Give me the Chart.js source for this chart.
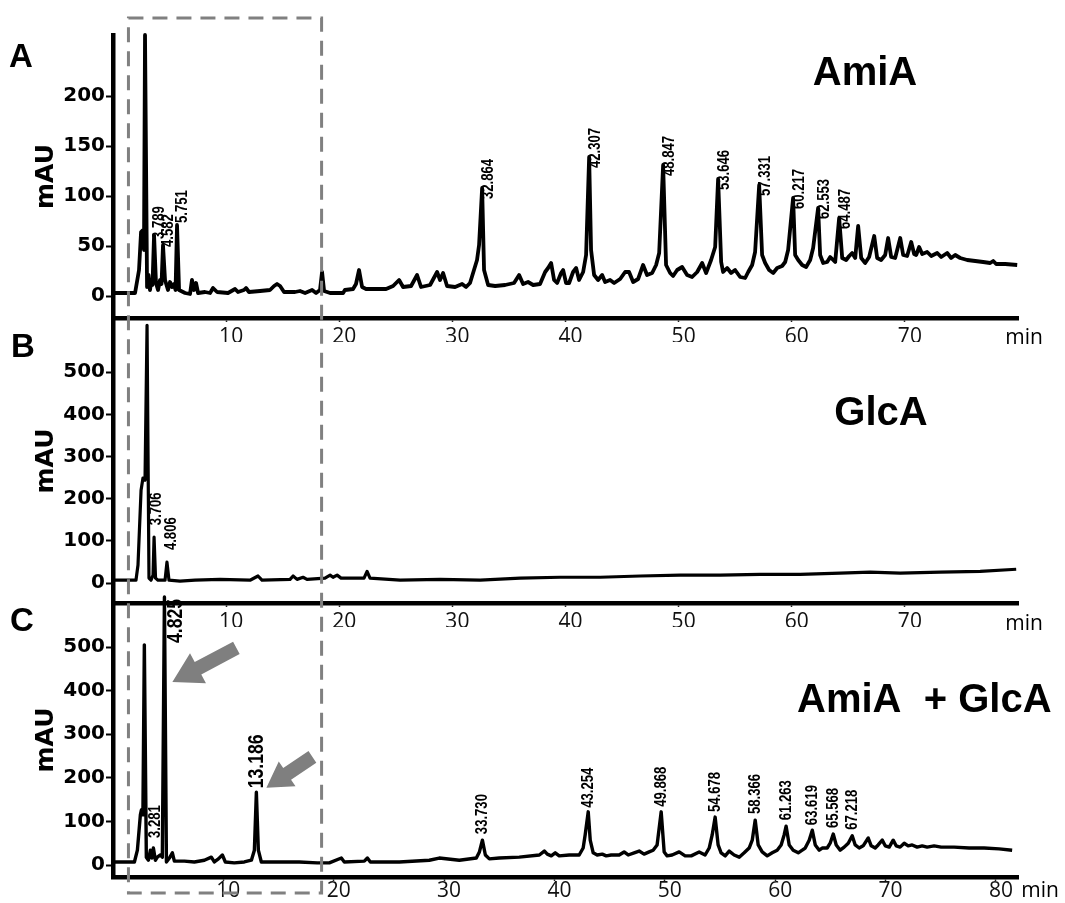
<!DOCTYPE html>
<html>
<head>
<meta charset="utf-8">
<script src="https://cdn.jsdelivr.net/npm/chart.js@4.4.1/dist/chart.umd.min.js"></script>
<style>
  body { margin: 0; background: #fff; }
  #wrap { position: relative; width: 1065px; height: 903px; }
  #wrap canvas { position: absolute; left: 0; top: 0; }
</style>
</head>
<body>
<div id="wrap">
  <canvas id="chartA" width="1065" height="903"></canvas>
  <canvas id="chartB" width="1065" height="903"></canvas>
  <canvas id="chartC" width="1065" height="903"></canvas>
</div>
<script>
// chromatogram traces: [time (min), mAU]
const traceA = [[0,3],[1.95,3],[2.3,26],[2.48,64],[2.65,66],[2.74,46],[2.83,261],[3.01,9],[3.14,21],[3.27,6],[3.36,13],[3.49,11],[3.63,61],[3.8,13],[3.98,6],[4.16,16],[4.29,12],[4.42,51],[4.6,16],[4.86,6],[5.04,14],[5.22,9],[5.39,12],[5.53,6],[5.66,71],[5.84,6],[6.37,3],[6.81,2],[6.98,16],[7.16,6],[7.34,13],[7.52,3],[8.13,4],[8.58,3],[8.84,8],[9.2,4],[10.17,3],[10.79,7],[11.05,4],[11.58,6],[11.76,8],[12.02,4],[13.0,5],[13.88,6],[14.24,10],[14.5,12],[14.77,10],[15.12,4],[16.09,4],[16.53,5],[16.98,3],[17.6,6],[17.95,3],[18.3,6],[18.48,24],[18.66,5],[19.19,3],[20.34,3],[20.5,6],[21.22,7],[21.48,12],[21.75,26],[22.02,9],[22.37,7],[24.14,7],[24.76,10],[25.29,16],[25.64,9],[26.35,10],[26.88,21],[27.23,9],[28.03,11],[28.65,24],[28.91,16],[29.18,23],[29.53,10],[30.24,9],[30.86,12],[31.21,9],[31.56,13],[32.18,36],[32.36,51],[32.63,108],[32.8,26],[33.16,11],[33.78,10],[34.66,11],[35.45,13],[35.9,21],[36.25,12],[36.69,14],[37.14,11],[37.75,12],[38.2,24],[38.46,28],[38.73,33],[38.99,16],[39.26,13],[39.61,23],[39.79,26],[40.05,13],[40.32,13],[40.67,24],[40.94,28],[41.2,16],[41.56,24],[41.82,41],[42.09,139],[42.26,46],[42.53,21],[42.88,16],[43.24,21],[43.5,14],[43.94,16],[44.3,13],[44.83,17],[45.27,24],[45.62,24],[45.98,14],[46.42,17],[46.86,31],[47.21,21],[47.66,23],[48.01,31],[48.28,43],[48.63,131],[48.89,31],[49.25,23],[49.51,20],[49.87,26],[50.31,29],[50.75,21],[51.19,19],[51.64,24],[52.08,33],[52.43,23],[52.87,36],[53.23,49],[53.49,117],[53.76,34],[53.93,24],[54.29,28],[54.64,23],[54.99,26],[55.44,19],[55.88,18],[56.15,24],[56.5,31],[56.76,44],[57.12,111],[57.38,41],[57.65,33],[58.0,26],[58.36,23],[58.71,28],[59.15,30],[59.42,34],[59.68,46],[60.12,98],[60.3,41],[60.57,36],[60.92,31],[61.27,29],[61.63,36],[61.89,48],[62.33,88],[62.51,41],[62.78,33],[63.13,34],[63.4,39],[63.84,34],[64.19,78],[64.46,38],[64.81,36],[65.08,40],[65.34,43],[65.61,38],[65.87,70],[66.14,38],[66.49,33],[66.84,39],[67.29,60],[67.55,38],[67.9,36],[68.26,41],[68.52,58],[68.79,39],[69.14,38],[69.59,58],[69.85,41],[70.2,40],[70.56,54],[70.82,42],[71.0,41],[71.26,49],[71.53,42],[71.97,44],[72.33,40],[72.86,43],[73.21,39],[73.74,43],[74.09,38],[74.45,41],[74.89,38],[75.51,36],[76.22,35],[76.92,34],[77.54,33],[77.81,35],[78.07,32],[78.87,32],[79.93,31]];

const traceB = [[0,7],[2.03,7],[2.21,43],[2.48,220],[2.65,249],[2.83,244],[3.01,611],[3.18,12],[3.36,7],[3.54,19],[3.63,109],[3.76,12],[3.98,7],[4.6,7],[4.77,50],[4.95,7],[5.92,5],[7.25,7],[9.46,9],[12.11,7],[12.82,17],[13.17,7],[15.65,9],[15.92,17],[16.27,9],[16.8,14],[17.15,9],[18.74,12],[19.19,19],[19.45,14],[19.81,19],[20.16,12],[22.19,12],[22.46,28],[22.72,12],[25.38,7],[28.91,9],[32.45,7],[35.99,12],[39.52,14],[43.06,14],[46.6,17],[50.13,19],[53.67,19],[57.2,21],[60.74,21],[64.28,24],[66.93,26],[69.59,24],[73.12,26],[76.66,28],[79.84,33]];

const traceC = [[0,7],[1.94,7],[2.21,34],[2.48,115],[2.57,126],[2.71,115],[2.84,505],[3.02,18],[3.21,11],[3.39,34],[3.52,16],[3.66,39],[3.84,11],[4.02,18],[4.29,23],[4.47,18],[4.66,615],[4.84,7],[5.11,16],[5.38,28],[5.56,9],[6.47,9],[7.37,7],[8.28,11],[8.91,18],[9.18,7],[9.55,14],[9.91,23],[10.18,7],[10.99,5],[11.9,7],[12.54,11],[12.81,34],[12.99,167],[13.17,34],[13.44,7],[15.07,7],[16.88,7],[18.51,5],[19.6,5],[20.69,16],[20.96,7],[22.77,9],[23.05,16],[23.32,7],[25.94,7],[28.66,11],[29.56,16],[31.38,11],[32.92,16],[33.2,30],[33.47,57],[33.74,23],[34.1,14],[35.0,16],[36.81,18],[38.63,23],[39.08,32],[39.35,25],[39.71,21],[40.07,28],[40.43,21],[41.34,23],[42.24,23],[42.6,39],[42.78,69],[43.06,122],[43.24,57],[43.51,28],[43.87,23],[44.33,25],[44.69,21],[45.14,23],[45.86,23],[46.31,30],[46.68,23],[47.22,28],[47.67,32],[48.12,25],[48.58,30],[48.94,34],[49.3,46],[49.67,122],[49.94,30],[50.21,21],[50.66,23],[51.3,30],[51.84,21],[52.39,21],[53.11,30],[53.65,23],[54.02,39],[54.29,69],[54.56,110],[54.83,46],[55.1,28],[55.47,21],[55.83,32],[56.28,23],[56.74,18],[57.19,28],[57.64,39],[57.92,57],[58.19,103],[58.46,46],[58.82,30],[59.28,21],[59.73,28],[60.18,34],[60.54,46],[60.81,69],[60.99,89],[61.27,46],[61.63,34],[62.09,28],[62.45,34],[62.72,39],[63.08,57],[63.36,80],[63.63,46],[63.99,34],[64.26,39],[64.71,39],[64.98,50],[65.26,71],[65.53,46],[65.89,34],[66.25,41],[66.62,50],[66.98,67],[67.25,46],[67.61,39],[67.97,44],[68.43,62],[68.7,44],[69.06,39],[69.33,46],[69.7,57],[69.97,44],[70.33,41],[70.69,57],[70.96,44],[71.32,41],[71.69,50],[72.05,44],[72.41,46],[72.86,41],[73.32,44],[73.77,41],[74.4,44],[75.04,41],[76.21,41],[77.57,39],[78.93,39],[80.29,37],[81.47,34]];

// peak annotations: [time of the peak in the trace, label]
const peaksA = [[3.63,'3.789'],[4.42,'4.582'],[5.66,'5.751'],[32.63,'32.864'],[42.09,'42.307'],[48.63,'48.847'],[53.49,'53.646'],[57.12,'57.331'],[60.12,'60.217'],[62.33,'62.553'],[64.19,'64.487']];
const peaksB = [[3.63,'3.706'],[4.77,'4.806']];
const peaksC = [[3.66,'3.281'],[33.47,'33.730'],[43.06,'43.254'],[49.67,'49.868'],[54.56,'54.678'],[58.19,'58.366'],[60.99,'61.263'],[63.36,'63.619'],[65.26,'65.568'],[66.98,'67.218']];
const bigPeaksC = [[4.66,'4.825'],[12.99,'13.186']];

// arrows in C point at these [min, mAU] spots
const arrowTipsC = [[5.38,420],[13.9,177]];
// dashed box spans this time window (C scale)
const boxRange = [1.4, 18.9];

const xTicksAB = [10,20,30,40,50,60,70];
const xTicksC = [10,20,30,40,50,60,70,80];
const yTicksA = [0,50,100,150,200];
const yTicksBC = [0,100,200,300,400,500];

const pick = (v, i) => Array.isArray(v) ? v[i] : v;

// rotated retention time labels next to the peaks
function peakLabels(items, st) {
  return {
    id: 'peakLabels',
    afterDatasetsDraw(chart) {
      const ctx = chart.ctx, xs = chart.scales.x, ys = chart.scales.y;
      const pts = chart.data.datasets[0].data;
      items.forEach((it, i) => {
        let best = pts[0];
        pts.forEach(p => { if (Math.abs(p.x - it[0]) < Math.abs(best.x - it[0])) best = p; });
        const px = xs.getPixelForValue(best.x) + pick(st.dx, i);
        const py = ys.getPixelForValue(Math.min(best.y, ys.max)) + pick(st.dy, i);
        ctx.save();
        ctx.translate(px, py);
        ctx.rotate(-Math.PI / 2);
        ctx.scale(st.squeeze, 1);
        ctx.font = st.font;
        ctx.fillStyle = '#000';
        ctx.textAlign = 'left';
        ctx.textBaseline = 'middle';
        ctx.fillText(it[1], 0, 0);
        ctx.restore();
      });
    }
  };
}

// free text: panel letters, titles, "min"
function panelText(texts) {
  return {
    id: 'panelText',
    afterDraw(chart) {
      const ctx = chart.ctx;
      texts.forEach(t => {
        ctx.save();
        ctx.font = t.font;
        ctx.fillStyle = t.color || '#000';
        ctx.textAlign = t.align || 'left';
        ctx.textBaseline = t.base || 'alphabetic';
        ctx.fillText(t.text, t.x, t.y);
        ctx.restore();
      });
    }
  };
}

// grey arrows and the dashed box, drawn on top of everything
const overlayC = {
  id: 'overlayC',
  afterDraw(chart) {
    const ctx = chart.ctx, xs = chart.scales.x, ys = chart.scales.y;
    const shapes = [
      { vx: 64, vy: -34, head: 29, hw: 17, sw: 7 },
      { vx: 46, vy: -31, head: 25, hw: 15, sw: 7 }
    ];
    arrowTipsC.forEach((tip, i) => {
      const s = shapes[i];
      const tx = xs.getPixelForValue(tip[0]), ty = ys.getPixelForValue(tip[1]);
      const len = Math.hypot(s.vx, s.vy), ux = s.vx / len, uy = s.vy / len;
      const nx = -uy, ny = ux;
      const bx = tx + ux * s.head, by = ty + uy * s.head;
      const ex = tx + s.vx, ey = ty + s.vy;
      ctx.save();
      ctx.fillStyle = '#7f7f7f';
      ctx.beginPath();
      ctx.moveTo(tx, ty);
      ctx.lineTo(bx + nx * s.hw, by + ny * s.hw);
      ctx.lineTo(bx + nx * s.sw, by + ny * s.sw);
      ctx.lineTo(ex + nx * s.sw, ey + ny * s.sw);
      ctx.lineTo(ex - nx * s.sw, ey - ny * s.sw);
      ctx.lineTo(bx - nx * s.sw, by - ny * s.sw);
      ctx.lineTo(bx - nx * s.hw, by - ny * s.hw);
      ctx.closePath();
      ctx.fill();
      ctx.restore();
    });
    const left = xs.getPixelForValue(boxRange[0]);
    const right = xs.getPixelForValue(boxRange[1]);
    ctx.save();
    ctx.strokeStyle = '#808080';
    ctx.lineWidth = 3;
    ctx.setLineDash([15, 9]);
    ctx.strokeRect(left, 18, right - left, 875);
    ctx.restore();
  }
};

function makeChart(id, trace, cfg, plugins) {
  return new Chart(document.getElementById(id), {
    type: 'line',
    data: {
      datasets: [{
        data: trace.map(p => ({ x: p[0], y: p[1] })),
        borderColor: '#000',
        borderWidth: cfg.lineWidth,
        borderJoinStyle: 'round',
        pointRadius: 0,
        tension: 0,
        clip: false
      }]
    },
    options: {
      responsive: false,
      animation: false,
      events: [],
      layout: { padding: { left: 0, right: 47, top: cfg.top, bottom: cfg.bottom } },
      plugins: { legend: { display: false }, tooltip: { enabled: false } },
      scales: {
        x: {
          type: 'linear', min: 0, max: cfg.xMax,
          afterFit: s => { s.height = 24; },
          afterBuildTicks: s => { s.ticks = cfg.xTicks.map(v => ({ value: v })); },
          grid: { drawOnChartArea: false, drawTicks: true, tickLength: 4, tickColor: '#222', tickWidth: 1.5 },
          border: { display: true, color: '#000', width: 4.5 },
          ticks: { font: { family: 'Open Sans', size: 21, lineHeight: 1 }, color: '#111', padding: cfg.xPad, labelOffset: 5, maxRotation: 0, autoSkip: false }
        },
        y: {
          min: cfg.yMin, max: cfg.yMax,
          afterFit: s => { s.width = 113; },
          afterBuildTicks: s => { s.ticks = cfg.yTicks.map(v => ({ value: v })); },
          grid: { drawOnChartArea: false, drawTicks: true, tickLength: 7, tickColor: '#000', tickWidth: 2 },
          border: { display: true, color: '#000', width: 4.5 },
          ticks: { font: { family: 'DejaVu Sans', weight: 'bold', size: 20 }, color: '#000', padding: 1, autoSkip: false },
          title: { display: true, text: 'mAU', color: '#000', font: { family: 'DejaVu Sans', weight: 'bold', size: 25, lineHeight: 1 }, padding: { top: 34, bottom: 0 } }
        }
      }
    },
    plugins: plugins
  });
}

const smallFont = 'bold 16px "Liberation Sans", Arial, sans-serif';
const bigFont = 'bold 22px "Liberation Sans", Arial, sans-serif';
const titleFont = 'bold 40px "Liberation Sans", Arial, sans-serif';
const letterFont = 'bold 33px "Liberation Sans", Arial, sans-serif';
const minFont = '21px "Open Sans", sans-serif';

makeChart('chartA', traceA,
  { lineWidth: 3.8, top: 35, bottom: 561, xMax: 80, xTicks: xTicksAB, xPad: 5, yMin: -22, yMax: 261, yTicks: yTicksA },
  [peakLabels(peaksA, { dx: 6, dy: [4, 2, -2, 11, 11, 11, 11, 11, 11, 11, 11], squeeze: 0.82, font: smallFont }),
   panelText([
     { text: 'A', x: 9, y: 67, font: letterFont },
     { text: 'AmiA', x: 865, y: 85, font: titleFont, align: 'center' },
     { text: 'min', x: 1024, y: 338, font: minFont, align: 'center', base: 'middle' }
   ])]);

makeChart('chartB', traceB,
  { lineWidth: 3.2, top: 319, bottom: 276, xMax: 80, xTicks: xTicksAB, xPad: 5, yMin: -47, yMax: 626, yTicks: yTicksBC },
  [peakLabels(peaksB, { dx: [3, 5], dy: -12, squeeze: 0.82, font: smallFont }),
   panelText([
     { text: 'B', x: 11, y: 357, font: letterFont },
     { text: 'GlcA', x: 881, y: 425, font: titleFont, align: 'center' },
     { text: 'min', x: 1024, y: 624, font: minFont, align: 'center', base: 'middle' }
   ])]);

makeChart('chartC', traceC,
  { lineWidth: 3.4, top: 603, bottom: 2, xMax: 82, xTicks: xTicksC, xPad: 0, yMin: -27.5, yMax: 601, yTicks: yTicksBC },
  [peakLabels(peaksC, { dx: [2, 0, 0, 0, 0, 0, 0, 0, 0, 0], dy: [-10, -6, -4, -5, -5, -6, -6, -5, -6, -6], squeeze: 0.82, font: smallFont }),
   peakLabels(bigPeaksC, { dx: [12, 1], dy: [40, -4], squeeze: 0.8, font: bigFont }),
   panelText([
     { text: 'C', x: 10, y: 631, font: letterFont },
     { text: 'AmiA  + GlcA', x: 797, y: 712, font: titleFont },
     { text: 'min', x: 1040, y: 891, font: minFont, align: 'center', base: 'middle' }
   ]),
   overlayC]);
</script>
</body>
</html>
